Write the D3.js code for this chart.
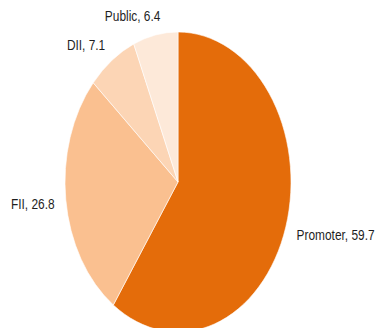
<!DOCTYPE html>
<html>
<head>
<meta charset="utf-8">
<script src="https://cdn.jsdelivr.net/npm/d3@7"></script>
<style>
  body { margin: 0; background: #fff; }
  svg { display: block; }
  .label { font-family: "Liberation Sans", Arial, sans-serif; font-size: 14px; fill: #1e1e1e; }
</style>
</head>
<body>
<div id="wrapper"></div>
<script>
// data
const categories = ["Promoter", "FII", "DII", "Public"]
const values = [59.7, 26.8, 7.1, 6.4]
const colors = ["#E46C0A", "#FAC090", "#FCD5B5", "#FDE9D9"]

const dimensions = {
    width: 377,
    height: 328,
    cx: 178,
    cy: 182,
    rx: 113,
    ry: 150,
}

const svg = d3.select("#wrapper")
    .append("svg")
    .attr("width", dimensions.width)
    .attr("height", dimensions.height)

const dataset = categories.map((c, i) => ({ name: c, value: values[i], color: colors[i] }))

const pie = d3.pie()
    .sort(null)
    .value(d => d.value)

const arcs = pie(dataset)

// pie is drawn as a circle of radius ry then squashed horizontally
const arc = d3.arc()
    .innerRadius(0)
    .outerRadius(dimensions.ry)

const pieGroup = svg.append("g")
    .attr("transform", `translate(${dimensions.cx},${dimensions.cy}) scale(${dimensions.rx / dimensions.ry},1)`)

pieGroup.selectAll("path")
    .data(arcs)
    .join("path")
    .attr("d", arc)
    .attr("fill", d => d.data.color)
    .attr("stroke", "#fff")
    .attr("stroke-width", 0.6)
    .attr("vector-effect", "non-scaling-stroke")

// labels, outside end of each slice
const labelFactor = 1.1
const squeeze = 0.85 // narrow face like Calibri
const labels = svg.append("g")
    .selectAll("text")
    .data(arcs)
    .join("text")
    .attr("class", "label")
    .text(d => `${d.data.name}, ${d.data.value}`)
    .each(function (d) {
        const mid = (d.startAngle + d.endAngle) / 2
        const s = Math.sin(mid)
        const c = Math.cos(mid)
        const w = this.getComputedTextLength() * squeeze
        let x = dimensions.cx + dimensions.rx * labelFactor * s
        const y = dimensions.cy - dimensions.ry * labelFactor * c - c * 6
        let anchor = s >= 0 ? "start" : "end"
        if (Math.abs(s) < 0.3) {
            anchor = "middle"
            x = x - w * 0.37
        }
        d3.select(this)
            .attr("x", x)
            .attr("y", y)
            .attr("dy", "0.45em")
            .attr("text-anchor", anchor)
            .attr("textLength", w)
            .attr("lengthAdjust", "spacingAndGlyphs")
    })
</script>
</body>
</html>
